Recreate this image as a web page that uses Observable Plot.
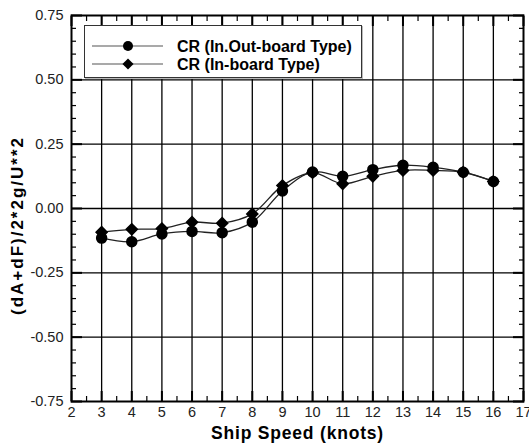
<!DOCTYPE html>
<html>
<head>
<meta charset="utf-8">
<script src="https://cdn.jsdelivr.net/npm/d3@7"></script>
<script src="https://cdn.jsdelivr.net/npm/@observablehq/plot@0.6"></script>
<style>
  html, body { margin: 0; padding: 0; background: #fff; }
  #wrap { position: relative; width: 529px; height: 444px; font-family: "Liberation Sans", Arial, sans-serif; }
  #legend { position: absolute; left: 84px; top: 25px; width: 278px; height: 53px; box-sizing: border-box;
            border: 1px solid #333; background: #fff; box-shadow: 1px 1px 0 #bbb; }
</style>
</head>
<body>
<div id="wrap"></div>
<script>
// Data
const speeds = [3, 4, 5, 6, 7, 8, 9, 10, 11, 12, 13, 14, 15, 16];
const crOutboard = [-0.115, -0.129, -0.099, -0.089, -0.094, -0.053, 0.068, 0.142, 0.125, 0.151, 0.168, 0.160, 0.141, 0.105];
const crInboard  = [-0.092, -0.081, -0.078, -0.053, -0.057, -0.021, 0.089, 0.139, 0.096, 0.125, 0.148, 0.148, 0.141, 0.105];
const seriesNames = ["CR (In.Out-board Type)", "CR (In-board Type)"];
const xTickValues = [2, 3, 4, 5, 6, 7, 8, 9, 10, 11, 12, 13, 14, 15, 16, 17];
const yTickValues = [-0.75, -0.50, -0.25, 0.00, 0.25, 0.50, 0.75];
const xTitle = "Ship Speed (knots)";
const yTitle = "(dA+dF)/2*2g/U**2";

const outData = speeds.map((s, i) => ({speed: s, value: crOutboard[i]}));
const inData = speeds.map((s, i) => ({speed: s, value: crInboard[i]}));

const xMinor = xTickValues.slice(0, -1).map(v => v + 0.5);
const yMinor = d3.range(-15, 16).filter(i => i % 5 !== 0).map(i => i / 20);
const xGrid = xTickValues.slice(1, -1);
const yGrid = yTickValues.slice(1, -1);
const blank = () => "";

const plot = Plot.plot({
  width: 529,
  height: 444,
  marginLeft: 71,
  marginRight: 6,
  marginTop: 15,
  marginBottom: 43,
  style: {fontFamily: "'Liberation Sans', Arial, sans-serif", fontSize: "14px", color: "#222", background: "#fff", overflow: "visible"},
  x: {domain: [2, 17]},
  y: {domain: [-0.75, 0.75]},
  marks: [
    Plot.ruleX(xGrid, {stroke: "#000", strokeWidth: 1.3}),
    Plot.ruleY(yGrid, {stroke: "#000", strokeWidth: 1.3}),
    // major / minor ticks (inward) on all four sides
    Plot.axisX({anchor: "bottom", ticks: xTickValues, tickSize: 10, dy: -10, tickFormat: blank, label: null, strokeWidth: 2, stroke: "#000"}),
    Plot.axisX({anchor: "bottom", ticks: xMinor, tickSize: 5, dy: -5, tickFormat: blank, label: null, strokeWidth: 1.2, stroke: "#000"}),
    Plot.axisX({anchor: "top", ticks: xTickValues, tickSize: 10, dy: 10, tickFormat: blank, label: null, strokeWidth: 2, stroke: "#000"}),
    Plot.axisX({anchor: "top", ticks: xMinor, tickSize: 5, dy: 5, tickFormat: blank, label: null, strokeWidth: 1.2, stroke: "#000"}),
    Plot.axisY({anchor: "left", ticks: yTickValues, tickSize: 11, dx: 11, tickFormat: blank, label: null, strokeWidth: 2, stroke: "#000"}),
    Plot.axisY({anchor: "left", ticks: yMinor, tickSize: 5, dx: 5, tickFormat: blank, label: null, strokeWidth: 1.2, stroke: "#000"}),
    Plot.axisY({anchor: "right", ticks: yTickValues, tickSize: 11, dx: -11, tickFormat: blank, label: null, strokeWidth: 2, stroke: "#000"}),
    Plot.axisY({anchor: "right", ticks: yMinor, tickSize: 5, dx: -5, tickFormat: blank, label: null, strokeWidth: 1.2, stroke: "#000"}),
    // tick labels
    Plot.axisX({anchor: "bottom", ticks: xTickValues, tickSize: 0, tickPadding: 5, tickFormat: d => String(d), label: null, fill: "#222", fontSize: 14.5}),
    Plot.axisY({anchor: "left", ticks: yTickValues, tickSize: 0, tickPadding: 8, tickFormat: d => d.toFixed(2), label: null, fill: "#222", fontSize: 14.5}),
    // series
    Plot.line(outData, {x: "speed", y: "value", curve: "catmull-rom", stroke: "#222", strokeWidth: 1.3}),
    Plot.line(inData, {x: "speed", y: "value", curve: "catmull-rom", stroke: "#222", strokeWidth: 1.3}),
    Plot.dot(outData, {x: "speed", y: "value", r: 5, fill: "#000", stroke: "#000", symbol: "circle"}),
    Plot.dot(inData, {x: "speed", y: "value", r: 5, fill: "#000", stroke: "#000", symbol: "diamond2"}),
    Plot.frame({stroke: "#000", strokeWidth: 2}),
    // axis titles
    Plot.text([xTitle], {frameAnchor: "bottom", textAnchor: "middle", lineAnchor: "middle", dy: 32, fontSize: 17.5, fontWeight: "bold", fill: "#000", text: d => d}),
    Plot.text([yTitle], {frameAnchor: "left", textAnchor: "middle", lineAnchor: "middle", dx: -54, dy: 17, rotate: -90, fontSize: 17, fontWeight: "bold", fill: "#000", text: d => d})
  ]
});

d3.select(plot).selectAll("text").each(function () {
  if (this.textContent === xTitle) this.style.letterSpacing = "0.8px";
  if (this.textContent === yTitle) this.style.letterSpacing = "2px";
});

const wrap = document.getElementById("wrap");
wrap.appendChild(plot);

// legend
const legend = document.createElement("div");
legend.id = "legend";
const ns = "http://www.w3.org/2000/svg";
const lsvg = document.createElementNS(ns, "svg");
lsvg.setAttribute("width", "276");
lsvg.setAttribute("height", "51");
const rows = [
  {name: seriesNames[0], sym: d3.symbolCircle, y: 20},
  {name: seriesNames[1], sym: d3.symbolDiamond2, y: 38}
];
rows.forEach(r => {
  const line = document.createElementNS(ns, "line");
  line.setAttribute("x1", 7); line.setAttribute("x2", 78);
  line.setAttribute("y1", r.y); line.setAttribute("y2", r.y);
  line.setAttribute("stroke", "#555"); line.setAttribute("stroke-width", "1.2");
  lsvg.appendChild(line);
  const p = document.createElementNS(ns, "path");
  p.setAttribute("d", d3.symbol(r.sym, Math.PI * 25)());
  p.setAttribute("transform", `translate(43,${r.y})`);
  p.setAttribute("fill", "#000");
  lsvg.appendChild(p);
  const t = document.createElementNS(ns, "text");
  t.setAttribute("x", 92); t.setAttribute("y", r.y);
  t.setAttribute("dy", "0.35em");
  t.setAttribute("font-family", "'Liberation Sans', Arial, sans-serif");
  t.setAttribute("font-size", "16");
  t.setAttribute("font-weight", "bold");
  t.setAttribute("fill", "#000");
  t.textContent = r.name;
  lsvg.appendChild(t);
});
legend.appendChild(lsvg);
wrap.appendChild(legend);
</script>
</body>
</html>
